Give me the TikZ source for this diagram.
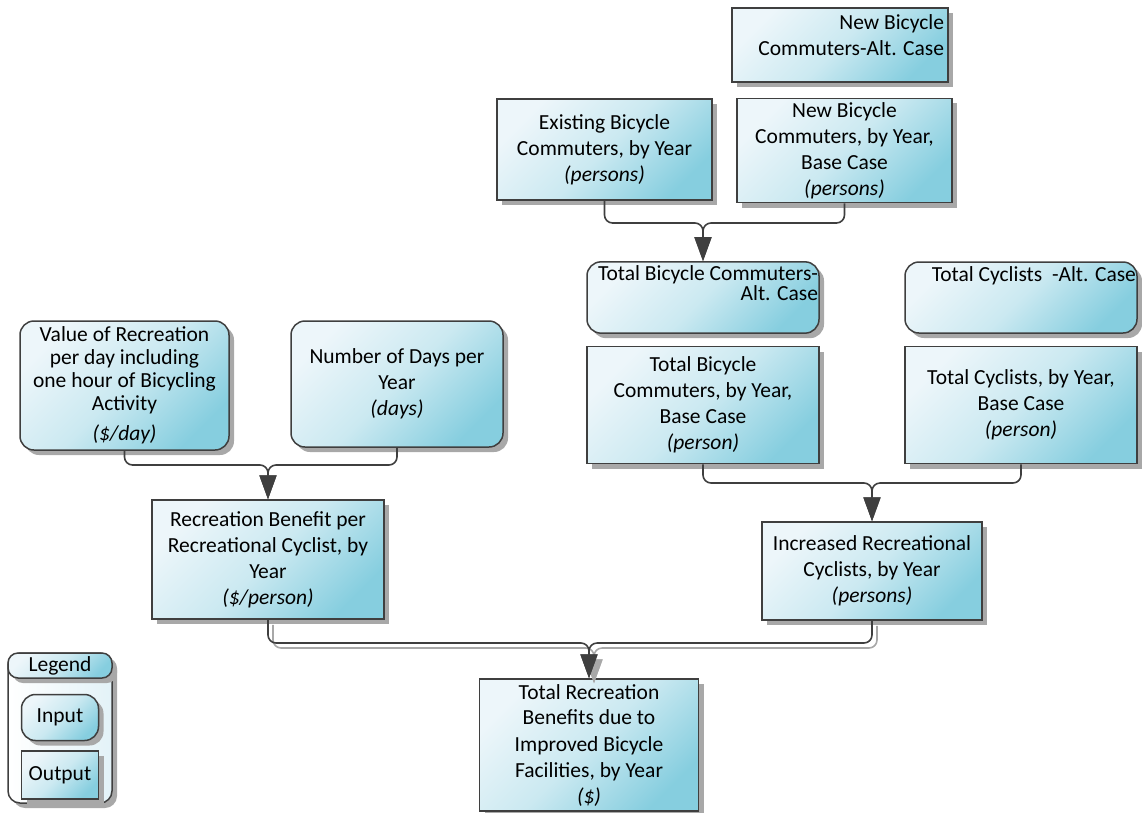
\documentclass[tikz,border=0pt]{standalone}
\usepackage{fontspec}
\setmainfont{Carlito}
\usepackage{tikz}
\usetikzlibrary{arrows.meta, positioning, shadows}
\definecolor{boxline}{HTML}{3F3F3F}
\definecolor{boxlight}{HTML}{EDF6FA}
\definecolor{boxmid}{HTML}{CBE9F1}
\definecolor{boxdark}{HTML}{86CEDF}
\definecolor{shadowgrey}{HTML}{A8A8A8}
\tikzset{
  outbox/.style={draw=boxline, line width=1.5pt, align=center, inner sep=4pt,
                 top color=boxlight, bottom color=boxdark, middle color=boxmid,
                 shading angle=45,
                 drop shadow={shadow xshift=5pt, shadow yshift=-5pt,
                              fill=shadowgrey, opacity=1},
                 font=\fontsize{21.5}{26}\selectfont},
  inbox/.style={outbox, rounded corners=14pt},
  altbox/.style={inbox, align=flush right, inner xsep=1pt, text width=230pt,
                 font=\fontsize{21.5}{18}\selectfont},
  legbox/.style={draw=boxline, line width=1.5pt, rounded corners=12pt,
                 left color=white, right color=boxlight!70!boxmid,
                 drop shadow={shadow xshift=5pt, shadow yshift=-5pt,
                              fill=shadowgrey, opacity=1}},
  flow/.style={-{Triangle[length=24pt, width=17pt]}, line width=1.6pt,
               draw=boxline, rounded corners=8pt},
  flowsh/.style={flow, draw=shadowgrey,
                 transform canvas={shift={(5pt,-5pt)}}},
}

\begin{document}
\begin{tikzpicture}[x=1pt, y=-1pt]
  \useasboundingbox (0,0) rectangle (1142,812);
  % commuters, top right
  \node[outbox, align=flush right, text width=208pt, minimum width=216pt, minimum height=74pt]
    (newalt) at (840,45) {New Bicycle\\Commuters-Alt. Case\\[-6pt]\mbox{}};
  \node[outbox, minimum width=215pt, minimum height=101pt] (exist) at (604.5,149.5)
    {Existing Bicycle\\Commuters, by Year\\\textit{(persons)}};
  \node[outbox, minimum width=215pt, minimum height=103pt] (newbase) at (844.5,150.5)
    {New Bicycle\\Commuters, by Year,\\Base Case\\\textit{(persons)}};
  % totals
  \node[altbox, minimum width=232pt, minimum height=71pt] (totalt) at (703,297.5)
    {Total Bicycle Commuters-\\Alt. Case\\[11pt]\mbox{}};
  \node[altbox, minimum width=232pt, minimum height=71pt] (cycalt) at (1021,297.5)
    {Total Cyclists\ \ -Alt. Case\\[29pt]\mbox{}};
  \node[outbox, minimum width=232pt, minimum height=117pt, below=12pt of totalt] (totbase)
    {Total Bicycle\\Commuters, by Year,\\Base Case\\\textit{(person)}};
  \node[outbox, minimum width=232pt, minimum height=117pt, below=12pt of cycalt] (cycbase)
    {Total Cyclists, by Year,\\Base Case\\\textit{(person)}};
  % recreation inputs
  \node[inbox, minimum width=209pt, minimum height=129pt,
        font=\fontsize{21.5}{23}\selectfont] (value) at (124.5,385.5)
    {Value of Recreation\\per day including\\one hour of Bicycling\\Activity\\[7pt]\textit{(\$/day)}};
  \node[inbox, minimum width=212pt, minimum height=126pt] (days) at (397,384)
    {Number of Days per\\Year\\\textit{(days)}};
  % results
  \node[outbox, minimum width=232pt, minimum height=119pt] (recben) at (268,559.5)
    {Recreation Benefit per\\Recreational Cyclist, by\\Year\\\textit{(\$/person)}};
  \node[outbox, minimum width=220pt, minimum height=98pt] (incr) at (872,571)
    {Increased Recreational\\Cyclists, by Year\\\textit{(persons)}};
  \node[outbox, minimum width=219pt, minimum height=132pt] (total) at (589,745)
    {Total Recreation\\Benefits due to\\Improved Bicycle\\Facilities, by Year\\\textit{(\$)}};
  % legend
  \node[legbox, minimum width=104pt, minimum height=150pt] (legend) at (60,728) {};
  \node[inbox, rounded corners=10pt, minimum width=104pt, minimum height=25pt,
        inner sep=0pt] (leghead) at (60,665.5) {Legend};
  \node[inbox, minimum width=77pt, minimum height=46pt, below=15pt of leghead] (input) {Input};
  \node[outbox, minimum width=77pt, minimum height=48pt, below=9pt of input] (output) {Output};
  % junctions
  \coordinate (j1) at (703,223);
  \coordinate (j2) at (268,465);
  \coordinate (j3) at (872,483);
  \coordinate (j4) at (589,643);
  % connectors
  \draw[flow] (exist.south) |- (j1) -- (totalt.north);
  \draw[flow] (newbase.south) |- (j1) -- (totalt.north);
  \draw[flow] (value.south) |- (j2) -- (recben.north);
  \draw[flow] (days.south) |- (j2) -- (recben.north);
  \draw[flow] (totbase.south) |- (j3) -- (incr.north);
  \draw[flow] (cycbase.south) |- (j3) -- (incr.north);
  \draw[flowsh] (recben.south) |- (j4) -- (total.north);
  \draw[flowsh] (incr.south) |- (j4) -- (total.north);
  \draw[flow] (recben.south) |- (j4) -- (total.north);
  \draw[flow] (incr.south) |- (j4) -- (total.north);
\end{tikzpicture}
\end{document}
